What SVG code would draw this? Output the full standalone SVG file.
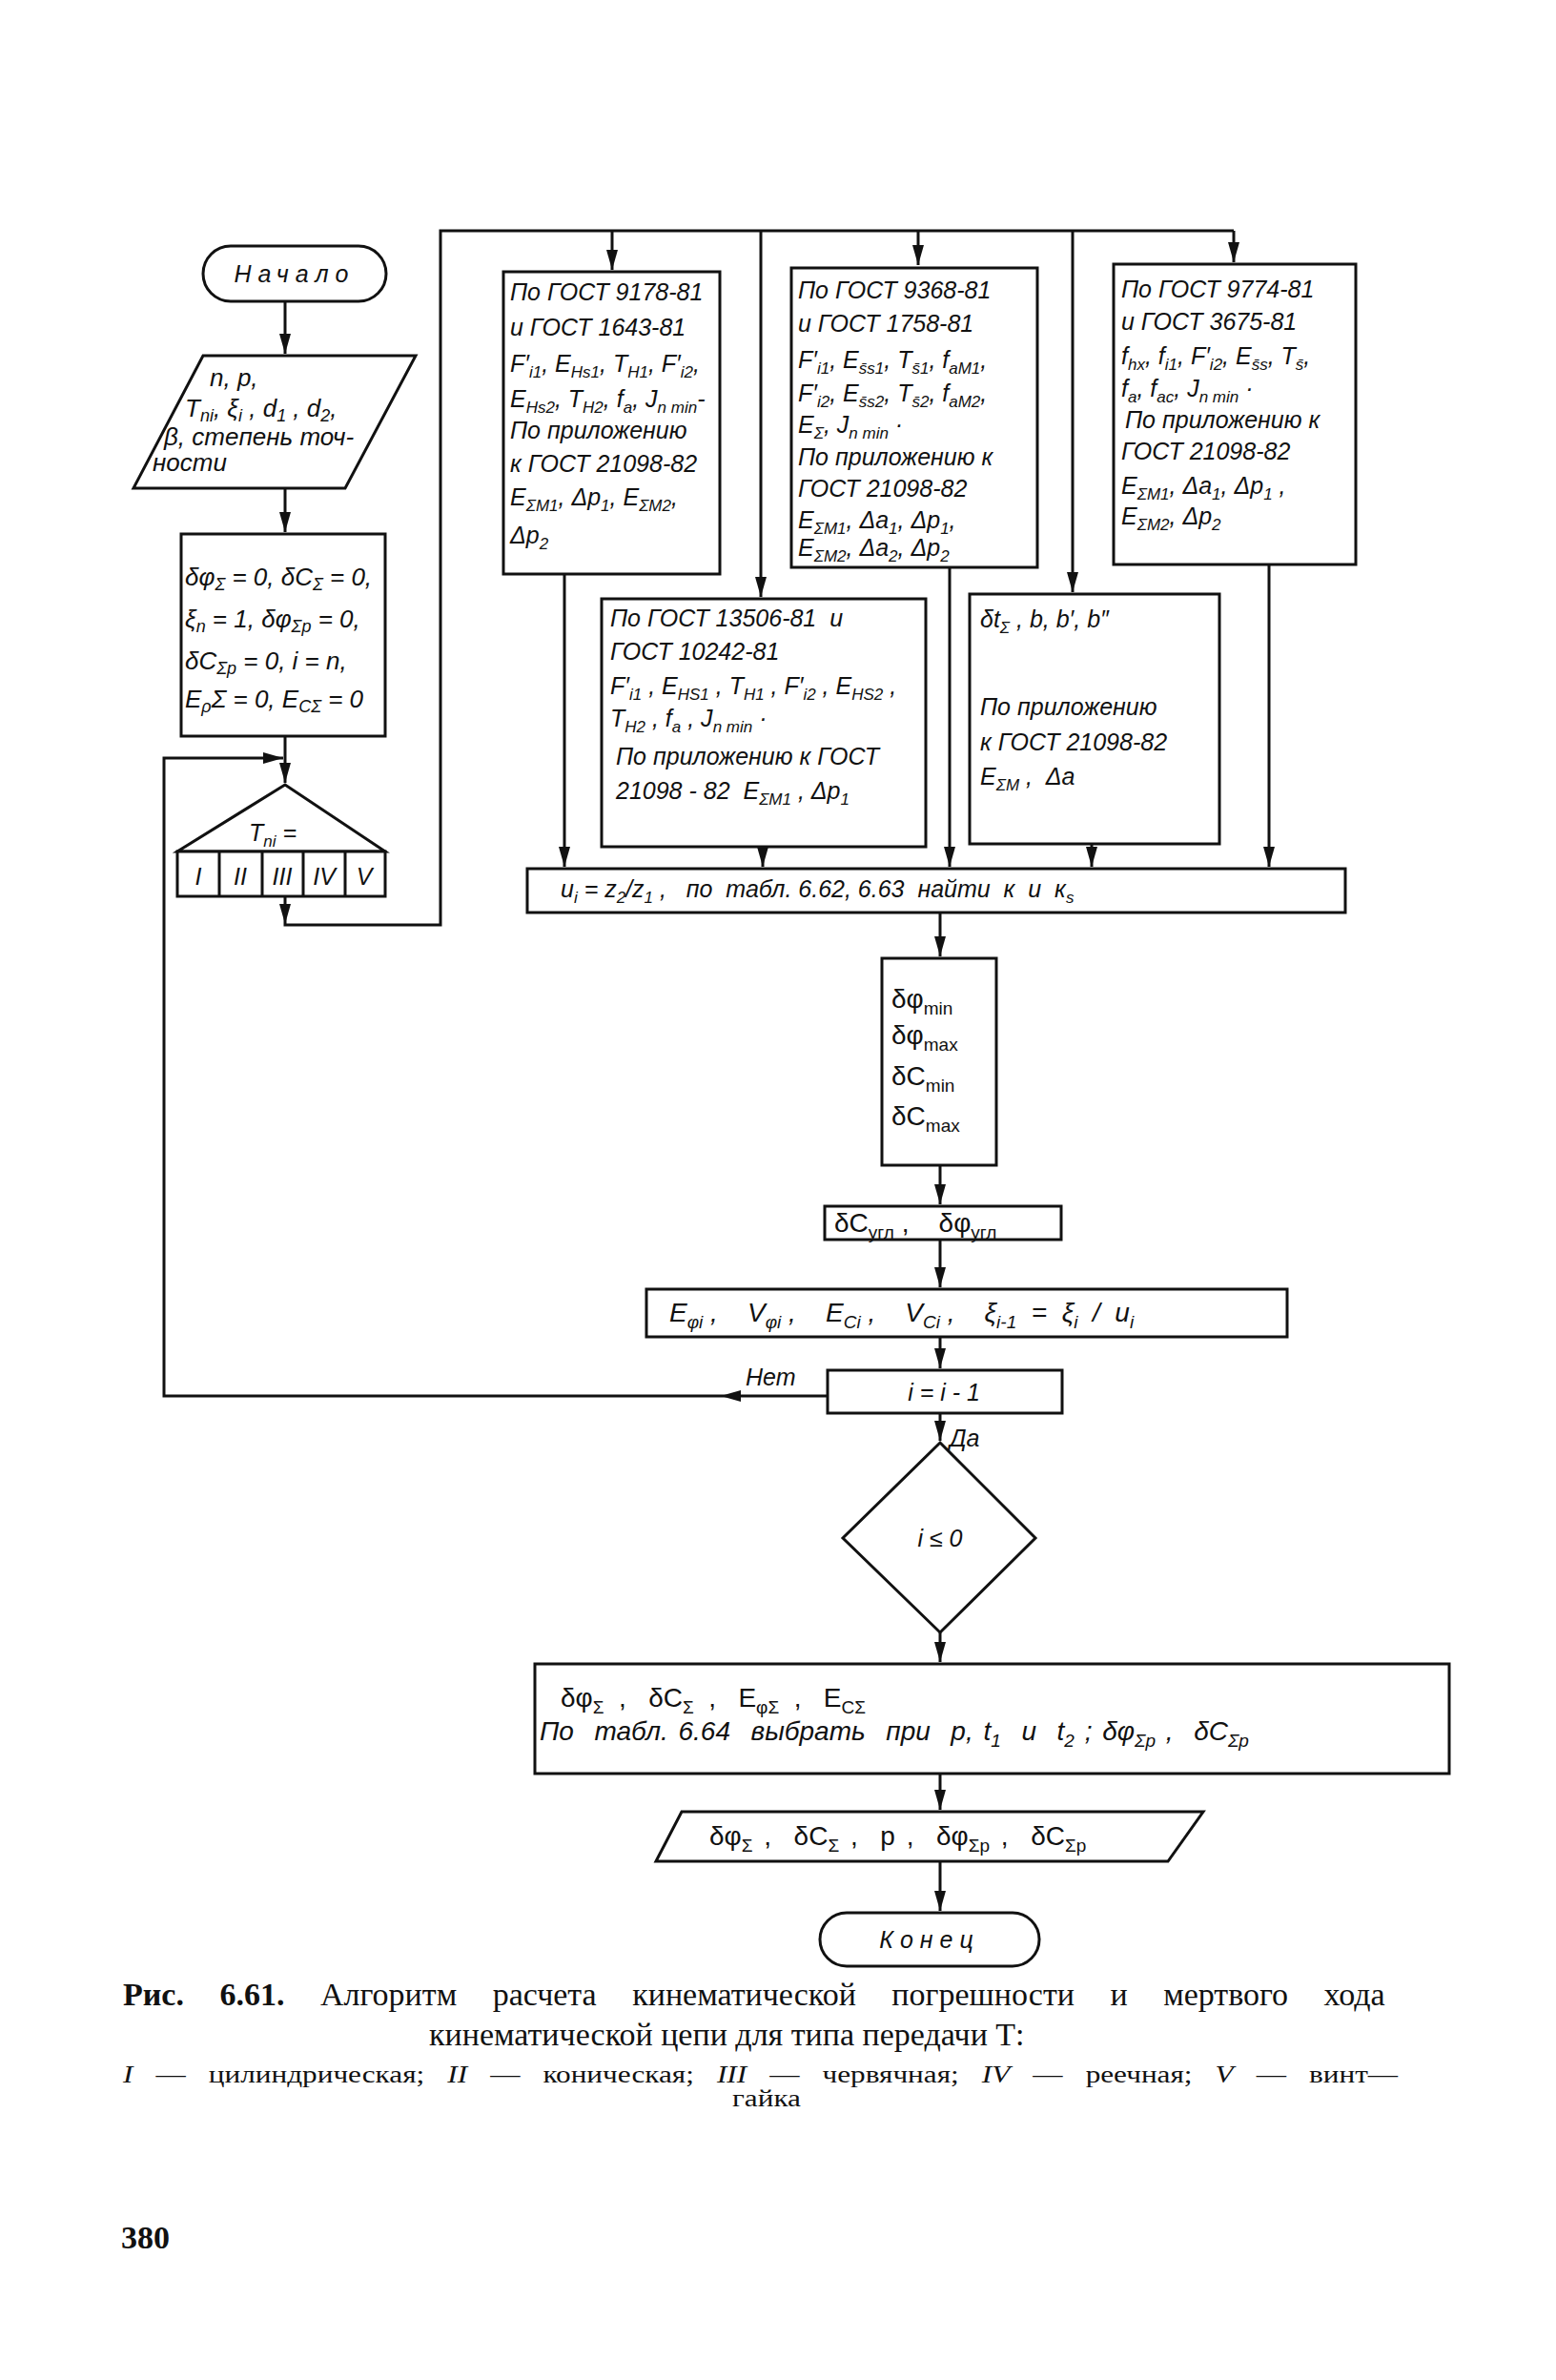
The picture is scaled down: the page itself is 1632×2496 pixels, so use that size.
<svg xmlns="http://www.w3.org/2000/svg" width="1632" height="2496" viewBox="0 0 1632 2496">
<style>
.ln{fill:none;stroke:#111;stroke-width:3}
.bx{fill:#fff;stroke:#111;stroke-width:3}
.ah{fill:#111;stroke:none}
.t{font-family:"Liberation Sans",Arial,sans-serif;font-style:italic;font-size:25px;fill:#111;white-space:pre}
.b{font-size:28px}
.m{font-size:26px}
.u{font-style:normal}
.s{font-size:17px;baseline-shift:-6px}
.b .s{font-size:19px;baseline-shift:-7px}
.m .s{font-size:18px;baseline-shift:-5px}
.cap{font-family:"Liberation Serif","Times New Roman",serif;fill:#111}
</style>
<defs>
<marker id="a" markerUnits="userSpaceOnUse" markerWidth="22" markerHeight="12" refX="21" refY="6" orient="auto">
<path d="M0,0 L21,6 L0,12 Z" fill="#111"/>
</marker>
</defs>
<rect width="1632" height="2496" fill="#fff"/>

<g id="connectors">
<path class="ln" d="M299,316 V371" marker-end="url(#a)"/>
<path class="ln" d="M299,512 V558" marker-end="url(#a)"/>
<path class="ln" d="M299,772 V821" marker-end="url(#a)"/>
<path class="ln" d="M868,1464 H172 V795 H297" marker-end="url(#a)"/>
<polygon class="ah" points="756,1464 777,1458 777,1470"/>
<path class="ln" d="M299,940 V970 H462 V242 H1294"/>
<polygon class="ah" points="299,969 293,948 305,948"/>
<path class="ln" d="M642,242 V283" marker-end="url(#a)"/>
<path class="ln" d="M798,242 V626" marker-end="url(#a)"/>
<path class="ln" d="M963,242 V278" marker-end="url(#a)"/>
<path class="ln" d="M1125,242 V621" marker-end="url(#a)"/>
<path class="ln" d="M1294,242 V275" marker-end="url(#a)"/>
<path class="ln" d="M592,602 V909" marker-end="url(#a)"/>
<path class="ln" d="M800,888 V909" marker-end="url(#a)"/>
<path class="ln" d="M996,595 V909" marker-end="url(#a)"/>
<path class="ln" d="M1145,885 V909" marker-end="url(#a)"/>
<path class="ln" d="M1331,592 V909" marker-end="url(#a)"/>
<path class="ln" d="M986,957 V1003" marker-end="url(#a)"/>
<path class="ln" d="M986,1222 V1263" marker-end="url(#a)"/>
<path class="ln" d="M986,1300 V1350" marker-end="url(#a)"/>
<path class="ln" d="M986,1402 V1435" marker-end="url(#a)"/>
<path class="ln" d="M986,1482 V1511" marker-end="url(#a)"/>
<path class="ln" d="M986,1712 V1743" marker-end="url(#a)"/>
<path class="ln" d="M986,1860 V1898" marker-end="url(#a)"/>
<path class="ln" d="M986,1952 V2004" marker-end="url(#a)"/>
<text class="t" x="782" y="1453">Нет</text>
<text class="t" x="996" y="1517">Да</text>
</g>

<g id="start">
<rect class="bx" x="213" y="258" width="192" height="58" rx="29"/>
<text class="t" x="309" y="296" text-anchor="middle" letter-spacing="7">Начало</text>
</g>

<g id="input">
<polygon class="bx" points="213,373 436,373 362,512 140,512"/>
<text class="t m" x="220" y="405">n, p,</text>
<text class="t m" x="194" y="437">T<tspan class="s">ni</tspan>, ξ<tspan class="s">i</tspan> , d<tspan class="s">1</tspan> , d<tspan class="s">2</tspan>,</text>
<text class="t m" x="172" y="467">β, степень точ-</text>
<text class="t m" x="160" y="494">ности</text>
</g>

<g id="init">
<rect class="bx" x="190" y="560" width="214" height="212"/>
<text class="t m" x="194" y="614">δφ<tspan class="s">Σ</tspan> = 0, δC<tspan class="s">Σ</tspan> = 0,</text>
<text class="t m" x="194" y="658">ξ<tspan class="s">n</tspan> = 1, δφ<tspan class="s">Σp</tspan> = 0,</text>
<text class="t m" x="194" y="702">δC<tspan class="s">Σp</tspan> = 0, i = n,</text>
<text class="t m" x="194" y="742">E<tspan class="s">ρ</tspan>Σ = 0, E<tspan class="s">CΣ</tspan> = 0</text>
</g>

<g id="select">
<polygon class="bx" points="299,823 186,893 404,893"/>
<rect class="bx" x="186" y="893" width="218" height="47"/>
<path class="ln" d="M230,893 V940 M275,893 V940 M318,893 V940 M362,893 V940"/>
<text class="t" x="261" y="882">T<tspan class="s">ni</tspan> =</text>
<text class="t" x="208" y="928" text-anchor="middle">I</text>
<text class="t" x="252" y="928" text-anchor="middle">II</text>
<text class="t" x="296" y="928" text-anchor="middle">III</text>
<text class="t" x="340" y="928" text-anchor="middle">IV</text>
<text class="t" x="382" y="928" text-anchor="middle">V</text>
</g>

<g id="box1">
<rect class="bx" x="528" y="285" width="227" height="317"/>
<text class="t" x="535" y="315">По ГОСТ 9178-81</text>
<text class="t" x="535" y="352">и ГОСТ 1643-81</text>
<text class="t" x="535" y="390">F′<tspan class="s">i1</tspan>, E<tspan class="s">Hs1</tspan>, T<tspan class="s">H1</tspan>, F′<tspan class="s">i2</tspan>,</text>
<text class="t" x="535" y="427">E<tspan class="s">Hs2</tspan>, T<tspan class="s">H2</tspan>, f<tspan class="s">a</tspan>, J<tspan class="s">n min</tspan>-</text>
<text class="t" x="535" y="460">По приложению</text>
<text class="t" x="535" y="495">к ГОСТ 21098-82</text>
<text class="t" x="535" y="530">E<tspan class="s">ΣM1</tspan>, Δp<tspan class="s">1</tspan>, E<tspan class="s">ΣM2</tspan>,</text>
<text class="t" x="535" y="570">Δp<tspan class="s">2</tspan></text>
</g>

<g id="box2">
<rect class="bx" x="830" y="281" width="258" height="314"/>
<text class="t" x="837" y="313">По ГОСТ 9368-81</text>
<text class="t" x="837" y="348">и ГОСТ 1758-81</text>
<text class="t" x="837" y="386">F′<tspan class="s">i1</tspan>, E<tspan class="s">s̄s1</tspan>, T<tspan class="s">s̄1</tspan>, f<tspan class="s">aM1</tspan>,</text>
<text class="t" x="837" y="421">F′<tspan class="s">i2</tspan>, E<tspan class="s">s̄s2</tspan>, T<tspan class="s">s̄2</tspan>, f<tspan class="s">aM2</tspan>,</text>
<text class="t" x="837" y="454">E<tspan class="s">Σ</tspan>, J<tspan class="s">n min</tspan> ·</text>
<text class="t" x="837" y="488">По приложению к</text>
<text class="t" x="837" y="521">ГОСТ 21098-82</text>
<text class="t" x="837" y="554">E<tspan class="s">ΣM1</tspan>, Δa<tspan class="s">1</tspan>, Δp<tspan class="s">1</tspan>,</text>
<text class="t" x="837" y="583">E<tspan class="s">ΣM2</tspan>, Δa<tspan class="s">2</tspan>, Δp<tspan class="s">2</tspan></text>
</g>

<g id="box3">
<rect class="bx" x="1168" y="277" width="254" height="315"/>
<text class="t" x="1176" y="312">По ГОСТ 9774-81</text>
<text class="t" x="1176" y="346">и ГОСТ 3675-81</text>
<text class="t" x="1176" y="382">f<tspan class="s">hx</tspan>, f<tspan class="s">i1</tspan>, F′<tspan class="s">i2</tspan>, E<tspan class="s">s̄s</tspan>, T<tspan class="s">s̄</tspan>,</text>
<text class="t" x="1176" y="416">f<tspan class="s">a</tspan>, f<tspan class="s">ac</tspan>, J<tspan class="s">n min</tspan> ·</text>
<text class="t" x="1180" y="449">По приложению к</text>
<text class="t" x="1176" y="482">ГОСТ 21098-82</text>
<text class="t" x="1176" y="518">E<tspan class="s">ΣM1</tspan>, Δa<tspan class="s">1</tspan>, Δp<tspan class="s">1</tspan> ,</text>
<text class="t" x="1176" y="550">E<tspan class="s">ΣM2</tspan>, Δp<tspan class="s">2</tspan></text>
</g>

<g id="box4">
<rect class="bx" x="631" y="628" width="340" height="260"/>
<text class="t" x="640" y="657">По ГОСТ 13506-81  и</text>
<text class="t" x="640" y="692">ГОСТ 10242-81</text>
<text class="t" x="640" y="728">F′<tspan class="s">i1</tspan> , E<tspan class="s">HS1</tspan> , T<tspan class="s">H1</tspan> , F′<tspan class="s">i2</tspan> , E<tspan class="s">HS2</tspan> ,</text>
<text class="t" x="640" y="762">T<tspan class="s">H2</tspan> , f<tspan class="s">a</tspan> , J<tspan class="s">n min</tspan> ·</text>
<text class="t" x="646" y="802">По приложению к ГОСТ</text>
<text class="t" x="646" y="838">21098 - 82  E<tspan class="s">ΣM1</tspan> , Δp<tspan class="s">1</tspan></text>
</g>

<g id="box5">
<rect class="bx" x="1017" y="623" width="262" height="262"/>
<text class="t" x="1028" y="658">δt<tspan class="s">Σ</tspan> , b, b′, b″</text>
<text class="t" x="1028" y="750">По приложению</text>
<text class="t" x="1028" y="787">к ГОСТ 21098-82</text>
<text class="t" x="1028" y="823">E<tspan class="s">ΣM</tspan> ,  Δa</text>
</g>

<g id="ratio">
<rect class="bx" x="553" y="911" width="858" height="46"/>
<text class="t" x="588" y="941">u<tspan class="s">i</tspan> = z<tspan class="s">2</tspan>/z<tspan class="s">1</tspan> ,   по  табл. 6.62, 6.63  найти  к  и  к<tspan class="s">s</tspan></text>
</g>

<g id="minmax">
<rect class="bx" x="925" y="1005" width="120" height="217"/>
<text class="t u b" x="935" y="1057">δφ<tspan class="s">min</tspan></text>
<text class="t u b" x="935" y="1095">δφ<tspan class="s">max</tspan></text>
<text class="t u b" x="935" y="1138">δC<tspan class="s">min</tspan></text>
<text class="t u b" x="935" y="1180">δC<tspan class="s">max</tspan></text>
</g>

<g id="angular">
<rect class="bx" x="865" y="1265" width="248" height="35"/>
<text class="t u b" x="875" y="1292">δC<tspan class="s">угл</tspan> ,    δφ<tspan class="s">угл</tspan></text>
</g>

<g id="errors">
<rect class="bx" x="678" y="1352" width="672" height="50"/>
<text class="t b" x="702" y="1386">E<tspan class="s">φi</tspan> ,    V<tspan class="s">φi</tspan> ,    E<tspan class="s">Ci</tspan> ,    V<tspan class="s">Ci</tspan> ,    ξ<tspan class="s">i-1</tspan>  =  ξ<tspan class="s">i</tspan>  /  u<tspan class="s">i</tspan></text>
</g>

<g id="decrement">
<rect class="bx" x="868" y="1437" width="246" height="45"/>
<text class="t" x="990" y="1469" text-anchor="middle">i = i - 1</text>
</g>

<g id="check">
<polygon class="bx" points="986,1513 1086,1613 986,1712 884,1613"/>
<text class="t" x="986" y="1622" text-anchor="middle">i ≤ 0</text>
</g>

<g id="result">
<rect class="bx" x="561" y="1745" width="959" height="115"/>
<text class="t u b" x="588" y="1790">δφ<tspan class="s">Σ</tspan>  ,   δC<tspan class="s">Σ</tspan>  ,   E<tspan class="s">φΣ</tspan>  ,   E<tspan class="s">CΣ</tspan></text>
<text class="t b" x="566" y="1825" word-spacing="3">По  табл. 6.64  выбрать  при  p, t<tspan class="s">1</tspan>  и  t<tspan class="s">2</tspan> ; δφ<tspan class="s">Σp</tspan> ,  δC<tspan class="s">Σp</tspan></text>
</g>

<g id="output">
<polygon class="bx" points="715,1900 1262,1900 1225,1952 688,1952"/>
<text class="t u b" x="744" y="1935" word-spacing="4">δφ<tspan class="s">Σ</tspan> ,  δC<tspan class="s">Σ</tspan> ,  p ,  δφ<tspan class="s">Σp</tspan> ,  δC<tspan class="s">Σp</tspan></text>
</g>

<g id="end">
<rect class="bx" x="860" y="2006" width="230" height="56" rx="28"/>
<text class="t" x="975" y="2043" text-anchor="middle" letter-spacing="7">Конец</text>
</g>

<g id="caption">
<text class="cap" x="129" y="2103" font-size="34" word-spacing="29"><tspan font-weight="bold">Рис. 6.61.</tspan> Алгоритм расчета кинематической погрешности и мертвого хода</text>
<text class="cap" x="450" y="2145" font-size="34">кинематической цепи для типа передачи Т:</text>
<text class="cap" transform="translate(129,2184) scale(1.25,1)" font-size="25" word-spacing="13"><tspan font-style="italic">I</tspan> — цилиндрическая; <tspan font-style="italic">II</tspan> — коническая; <tspan font-style="italic">III</tspan> — червячная; <tspan font-style="italic">IV</tspan> — реечная; <tspan font-style="italic">V</tspan> — винт—</text>
<text class="cap" transform="translate(804,2209) scale(1.25,1)" font-size="25" text-anchor="middle">гайка</text>
<text class="cap" x="127" y="2358" font-size="34" font-weight="bold">380</text>
</g>
</svg>
